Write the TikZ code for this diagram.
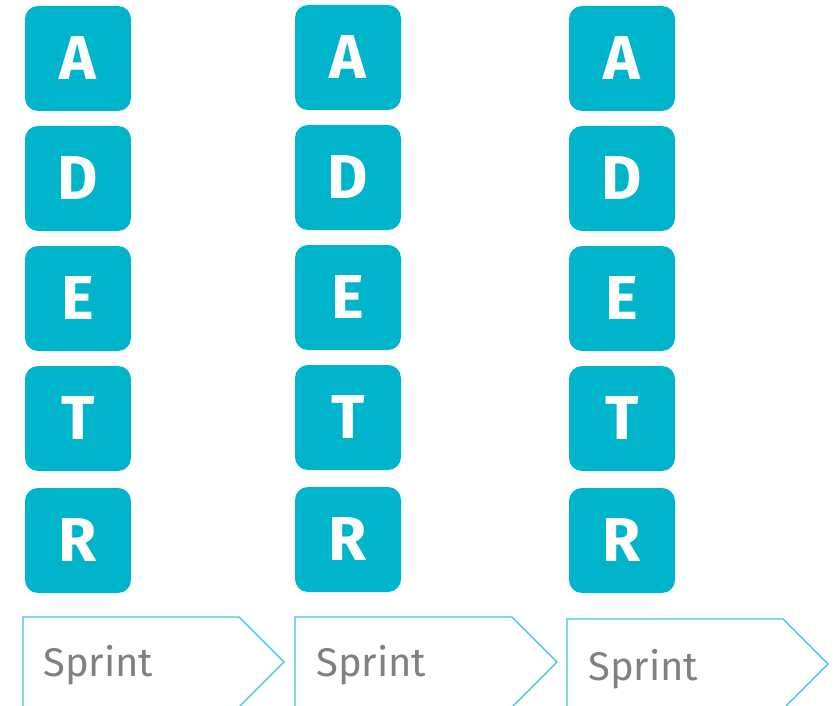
\documentclass[tikz,border=0pt]{standalone}
\usepackage{fontspec}
\setmainfont{Fira Sans}
\definecolor{tile}{RGB}{0,180,204}
\definecolor{arrowline}{RGB}{60,196,216}
\definecolor{labelgray}{RGB}{128,128,128}
\tikzset{
  tile/.style={rectangle, rounded corners=13pt, fill=tile, minimum width=106pt,
    minimum height=105pt, inner sep=0pt, text=white, font=\fontsize{62}{62}\selectfont\bfseries},
  sprintshape/.style={draw=arrowline, line width=1.3pt, fill=white, line join=miter},
  sprintlabel/.style={anchor=base west, inner sep=0pt, text=labelgray, font=\fontsize{40}{40}\selectfont}
}
\begin{document}
\begin{tikzpicture}[x=1pt,y=-1pt]
\clip (0,0) rectangle (836,706);
\fill[white] (0,0) rectangle (836,706);

% three columns of letter tiles
\foreach \col/\cx/\dy in {1/78/0, 2/348/-1, 3/622/0}{
  \node[tile] (a\col) at (\cx, 58.5+\dy) {A};
  \node[tile] (d\col) at (\cx, 178.5+\dy) {D};
  \node[tile] (e\col) at (\cx, 298.5+\dy) {E};
  \node[tile] (t\col) at (\cx, 418.5+\dy) {T};
  \node[tile] (r\col) at (\cx, 540.5+\dy) {R};
}

% sprint chevrons
\draw[sprintshape] (23,617) -- (239,617) -- (284,662) -- (239,707) -- (23,707) -- cycle;
\draw[sprintshape] (295,617) -- (512,617) -- (557,662) -- (512,707) -- (295,707) -- cycle;
\draw[sprintshape] (567,619) -- (783,619) -- (828,664) -- (783,709) -- (567,709) -- cycle;

\node[sprintlabel] (s1) at (43,676) {Sprint};
\node[sprintlabel] (s2) at (316,676) {Sprint};
\node[sprintlabel] (s3) at (588,680) {Sprint};
\end{tikzpicture}
\end{document}
